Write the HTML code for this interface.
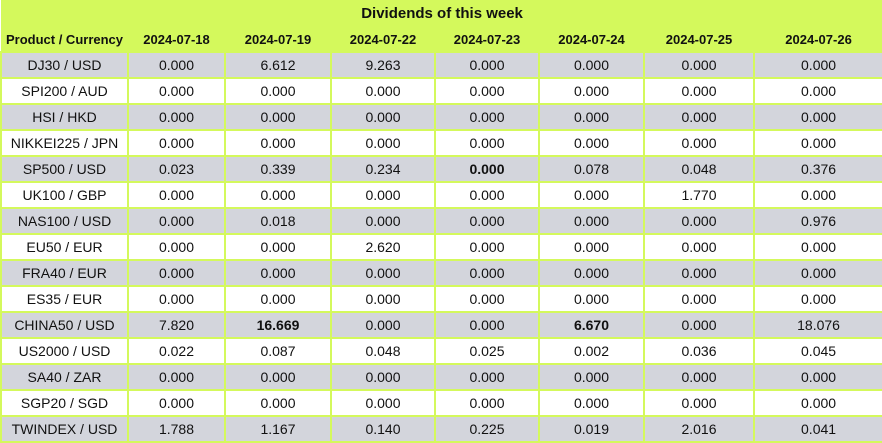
<!DOCTYPE html>
<html><head><meta charset="utf-8"><style>
body{margin:0;width:882px;height:443px;overflow:hidden;background:#fff;font-family:"Liberation Sans",sans-serif;}
table{border-collapse:collapse;table-layout:fixed;width:882px;}
td,th{text-align:center;font-size:14px;color:#111;padding:0;border:2px solid #d4f95c;height:24px;}
.title td{background:#d4f95c;font-weight:bold;font-size:15px;height:27px;border:none;}
.hdr th{background:#d4f95c;font-weight:bold;font-size:13px;height:24px;border-left:none;border-right:none;border-top:none;}
tr.g td{background:#d3d5dc;}
b{font-weight:bold;}
</style></head><body>
<table>
<colgroup><col style="width:127px"><col style="width:97px"><col style="width:106px"><col style="width:104px"><col style="width:104px"><col style="width:105px"><col style="width:110px"><col style="width:129px"></colgroup>
<tr class="title"><td colspan="8">Dividends of this week</td></tr>
<tr class="hdr"><th>Product / Currency</th><th>2024-07-18</th><th>2024-07-19</th><th>2024-07-22</th><th>2024-07-23</th><th>2024-07-24</th><th>2024-07-25</th><th>2024-07-26</th></tr>
<tbody id="tb"></tbody>
</table>
<script>
const products=["DJ30 / USD","SPI200 / AUD","HSI / HKD","NIKKEI225 / JPN","SP500 / USD","UK100 / GBP","NAS100 / USD","EU50 / EUR","FRA40 / EUR","ES35 / EUR","CHINA50 / USD","US2000 / USD","SA40 / ZAR","SGP20 / SGD","TWINDEX / USD"];
const values=[
["0.000","6.612","9.263","0.000","0.000","0.000","0.000"],
["0.000","0.000","0.000","0.000","0.000","0.000","0.000"],
["0.000","0.000","0.000","0.000","0.000","0.000","0.000"],
["0.000","0.000","0.000","0.000","0.000","0.000","0.000"],
["0.023","0.339","0.234","*0.000","0.078","0.048","0.376"],
["0.000","0.000","0.000","0.000","0.000","1.770","0.000"],
["0.000","0.018","0.000","0.000","0.000","0.000","0.976"],
["0.000","0.000","2.620","0.000","0.000","0.000","0.000"],
["0.000","0.000","0.000","0.000","0.000","0.000","0.000"],
["0.000","0.000","0.000","0.000","0.000","0.000","0.000"],
["7.820","*16.669","0.000","0.000","*6.670","0.000","18.076"],
["0.022","0.087","0.048","0.025","0.002","0.036","0.045"],
["0.000","0.000","0.000","0.000","0.000","0.000","0.000"],
["0.000","0.000","0.000","0.000","0.000","0.000","0.000"],
["1.788","1.167","0.140","0.225","0.019","2.016","0.041"]];
const tb=document.getElementById('tb');
products.forEach((p,i)=>{
 const tr=document.createElement('tr');
 
 
 if(i%2==0) tr.className='g';
 const td=document.createElement('td');
 
 
 td.textContent=p;tr.appendChild(td);
 values[i].forEach(v=>{
  const c=document.createElement('td');
  
  
  if(v[0]=='*'){const b=document.createElement('b');b.textContent=v.slice(1);c.appendChild(b);}
  else c.textContent=v;
  tr.appendChild(c);
 });
 tb.appendChild(tr);
});
</script>
</body></html>
